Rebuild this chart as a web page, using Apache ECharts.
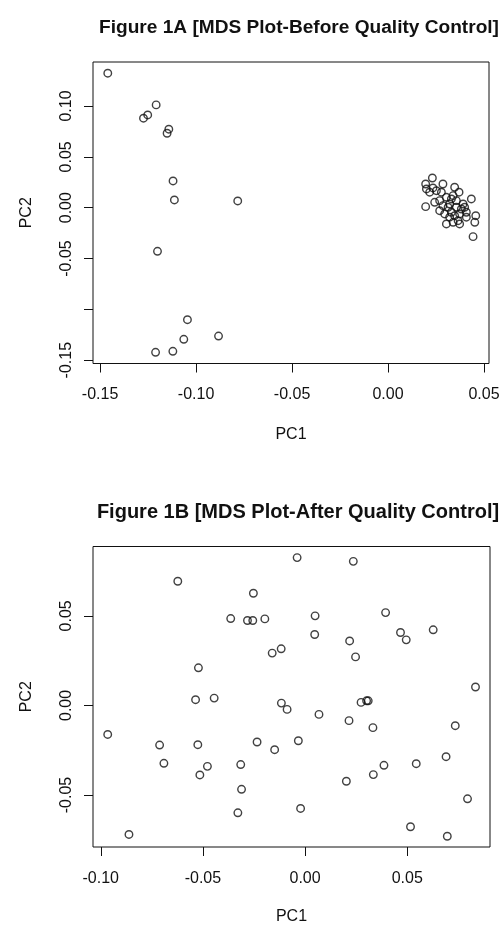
<!DOCTYPE html>
<html><head><meta charset="utf-8">
<script src="https://cdn.jsdelivr.net/npm/echarts@6/dist/echarts.min.js"></script>
<style>html,body{margin:0;padding:0;background:#fff}#c{width:501px;height:925px}</style>
</head><body><div id="c"></div>
<script>
const titleA = 'Figure 1A [MDS Plot-Before Quality Control]';
const titleB = 'Figure 1B [MDS Plot-After Quality Control]';

const beforePC1 = [
  -0.1460, -0.1208, -0.1274, -0.1252, -0.1142, -0.1151, -0.1120, -0.1113, -0.0783, -0.1201,
  -0.1045, -0.0883, -0.1064, -0.1121, -0.1211,
  0.0231, 0.0196, 0.0200, 0.0234, 0.0217, 0.0252, 0.0286, 0.0278, 0.0347, 0.0370,
  0.0339, 0.0304, 0.0196, 0.0243, 0.0269, 0.0321, 0.0434, 0.0391, 0.0399, 0.0356,
  0.0269, 0.0295, 0.0330, 0.0347, 0.0373, 0.0408, 0.0457, 0.0452, 0.0408, 0.0365,
  0.0339, 0.0304, 0.0373, 0.0443, 0.0313, 0.0286, 0.0330, 0.0356, 0.0382, 0.0321
];
const beforePC2 = [
  0.1323, 0.1011, 0.0880, 0.0912, 0.0772, 0.0732, 0.0263, 0.0076, 0.0066, -0.0429,
  -0.1102, -0.1263, -0.1295, -0.1413, -0.1423,
  0.0292, 0.0233, 0.0184, 0.0194, 0.0152, 0.0167, 0.0233, 0.0152, 0.0201, 0.0152,
  0.0118, 0.0102, 0.0010, 0.0053, 0.0069, 0.0036, 0.0086, 0.0036, 0.0004, 0.0004,
  -0.0030, -0.0062, -0.0045, -0.0079, -0.0062, -0.0045, -0.0079, -0.0144, -0.0094, -0.0128,
  -0.0144, -0.0160, -0.0160, -0.0285, 0.0004, 0.0020, 0.0086, 0.0069, -0.0013, -0.0094
];

const afterPC1 = [
  -0.0623, -0.0253, -0.0364, -0.0282, -0.0256, -0.0197, -0.0117, -0.0161, -0.0522, -0.0445,
  -0.0536, -0.0116, -0.0088, -0.0966, -0.0712, -0.0525, -0.0235, -0.0149, -0.0691, -0.0478,
  -0.0515, -0.0315, -0.0311, -0.0329, -0.0862, -0.0039, 0.0236, 0.0049, 0.0394, 0.0047,
  0.0218, 0.0467, 0.0495, 0.0627, 0.0247, 0.0834, 0.0274, 0.0301, 0.0309, 0.0068,
  0.0215, 0.0332, 0.0735, -0.0033, 0.0690, 0.0386, 0.0544, 0.0334, 0.0202, 0.0795,
  -0.0022, 0.0516, 0.0696
];
const afterPC2 = [
  0.0693, 0.0626, 0.0485, 0.0474, 0.0474, 0.0483, 0.0316, 0.0292, 0.0210, 0.0041,
  0.0032, 0.0013, -0.0022, -0.0162, -0.0221, -0.0219, -0.0204, -0.0247, -0.0323, -0.0340,
  -0.0388, -0.0330, -0.0468, -0.0599, -0.0720, 0.0825, 0.0804, 0.0500, 0.0518, 0.0396,
  0.0360, 0.0407, 0.0366, 0.0422, 0.0271, 0.0103, 0.0017, 0.0026, 0.0026, -0.0050,
  -0.0085, -0.0124, -0.0113, -0.0197, -0.0286, -0.0334, -0.0325, -0.0386, -0.0423, -0.0521,
  -0.0575, -0.0677, -0.0730
];

const ticksAx = [-0.15, -0.10, -0.05, 0.00, 0.05];
const ticksAy = [-0.15, -0.10, -0.05, 0.00, 0.05, 0.10];
const labelsAy = [-0.15, -0.05, 0.00, 0.05, 0.10];
const ticksBx = [-0.10, -0.05, 0.00, 0.05];
const ticksBy = [-0.05, 0.00, 0.05];

const FONT = 'Liberation Sans, Arial, Helvetica, sans-serif';
const fmt = v => (Math.abs(v) < 1e-9 ? 0 : v).toFixed(2);

function xAxis(gi, min, max, ticks, gap, margin) {
  return {
    type: 'value', gridIndex: gi, min: min, max: max,
    name: 'PC1', nameLocation: 'middle', nameGap: gap,
    nameTextStyle: { fontFamily: FONT, fontSize: 16, color: '#111' },
    axisLine: { show: false, onZero: false },
    axisTick: { show: true, inside: false, length: 9, customValues: ticks, lineStyle: { color: '#111', width: 1 } },
    axisLabel: { show: true, customValues: ticks, formatter: fmt, margin: margin, fontFamily: FONT, fontSize: 16, color: '#111', showMinLabel: true, showMaxLabel: true, hideOverlap: false },
    splitLine: { show: false }
  };
}
function yAxis(gi, min, max, ticks, labels) {
  return {
    type: 'value', gridIndex: gi, min: min, max: max,
    name: 'PC2', nameLocation: 'middle', nameGap: 58, nameRotate: 90,
    nameTextStyle: { fontFamily: FONT, fontSize: 16, color: '#111' },
    axisLine: { show: false, onZero: false },
    axisTick: { show: true, inside: false, length: 9, customValues: ticks, lineStyle: { color: '#111', width: 1 } },
    axisLabel: { show: true, customValues: labels, formatter: fmt, rotate: 90, align: 'center', verticalAlign: 'bottom', margin: 18, fontFamily: FONT, fontSize: 16, color: '#111', showMinLabel: true, showMaxLabel: true, hideOverlap: false },
    splitLine: { show: false }
  };
}

function pts(xs, ys) { return xs.map((x, i) => [x, ys[i]]); }
const mark = {
  type: 'scatter', symbol: 'circle', symbolSize: 7.5,
  itemStyle: { color: 'rgba(0,0,0,0)', borderColor: '#111', borderWidth: 1.4 },
  emphasis: { disabled: true }, silent: true, animation: false
};

const chart = echarts.init(document.getElementById('c'), null, { renderer: 'canvas' });
chart.setOption({
  backgroundColor: '#fff',
  animation: false,
  title: [
    { text: titleA, left: 294, top: 13, textAlign: 'center', textStyle: { fontFamily: FONT, fontSize: 19.1, fontWeight: 'bold', color: '#111' } },
    { text: titleB, left: 293, top: 497, textAlign: 'center', textStyle: { fontFamily: FONT, fontSize: 20, fontWeight: 'bold', color: '#111' } }
  ],
  grid: [
    { left: 93, top: 62, width: 396, height: 301.5, outerBoundsMode: 'none', containLabel: false, show: true, borderColor: '#111', borderWidth: 1, backgroundColor: 'transparent' },
    { left: 93, top: 546.5, width: 397, height: 300.5, outerBoundsMode: 'none', containLabel: false, show: true, borderColor: '#111', borderWidth: 1, backgroundColor: 'transparent' }
  ],
  xAxis: [
    xAxis(0, -0.1537, 0.0526, ticksAx, 63, 23),
    xAxis(1, -0.1038, 0.0905, ticksBx, 62, 24)
  ],
  yAxis: [
    yAxis(0, -0.1533, 0.1433, ticksAy, labelsAy),
    yAxis(1, -0.0790, 0.0887, ticksBy, ticksBy)
  ],
  series: [
    Object.assign({}, mark, { xAxisIndex: 0, yAxisIndex: 0, data: pts(beforePC1, beforePC2) }),
    Object.assign({}, mark, { xAxisIndex: 1, yAxisIndex: 1, data: pts(afterPC1, afterPC2) })
  ]
});
</script>
</body></html>
